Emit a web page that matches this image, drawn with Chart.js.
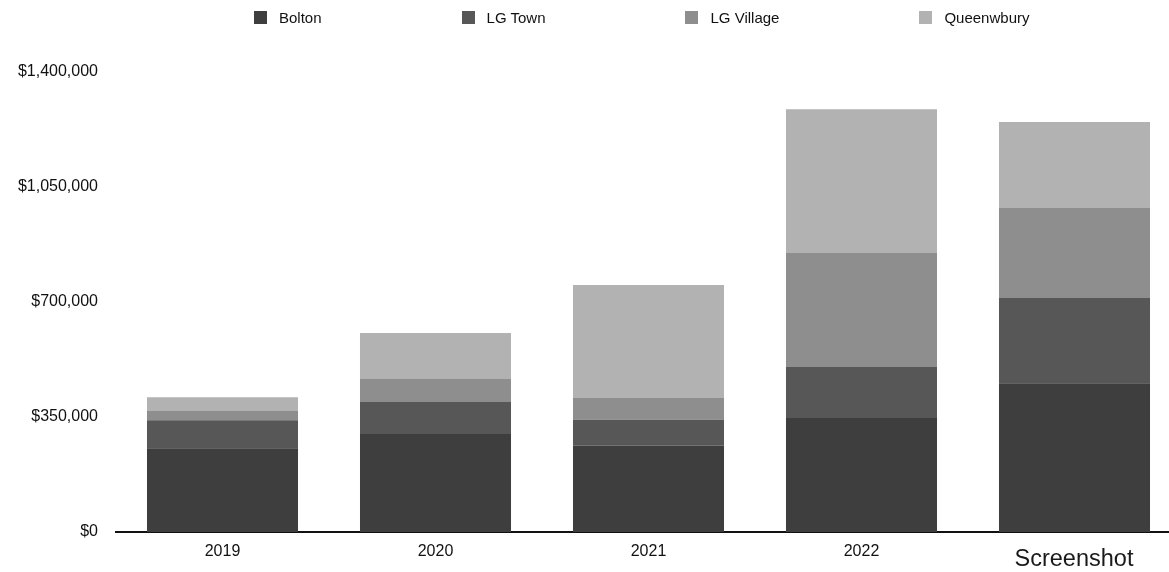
<!DOCTYPE html>
<html>
<head>
<meta charset="utf-8">
<script src="https://cdn.jsdelivr.net/npm/chart.js@4/dist/chart.umd.min.js"></script>
<style>
    html, body { margin: 0; padding: 0; background: #fff; overflow: hidden; width: 1169px; height: 572px; }
    #wrap { position: relative; width: 1181px; height: 572px; }
    #legend {
        position: absolute; left: 254px; top: 9px;
        display: flex; gap: 140px;
        font: 15px "Liberation Sans", Arial, sans-serif; color: #111;
    }
    .legend-item { display: flex; align-items: center; }
    .legend-box { width: 13px; height: 13px; margin-right: 12px; }
    #overlay {
        position: absolute; left: 974px; width: 200px; top: 545px;
        text-align: center; line-height: 23px;
        font: 23.5px "Liberation Sans", Arial, sans-serif; color: #1a1a1a;
    }
</style>
</head>
<body>
<div id="wrap">
    <canvas id="revenueChart"></canvas>
    <div id="legend"></div>
    <div id="overlay">Screenshot</div>
</div>
<script>
// data
const years = ['2019', '2020', '2021', '2022', ''];
const bolton     = [255000, 298000, 263000, 347000, 453000];
const lgTown     = [ 85000,  98000,  79000, 155000, 259000];
const lgVillage  = [ 30000,  70000,  66000, 347000, 274000];
const queenwbury = [ 40000, 140000, 344000, 438000, 262000];
const yTicks = [0, 350000, 700000, 1050000, 1400000];

const seriesNames = ['Bolton', 'LG Town', 'LG Village', 'Queenwbury'];
const seriesColors = ['#3e3e3e', '#575757', '#8e8e8e', '#b2b2b2'];
const seriesData = [bolton, lgTown, lgVillage, queenwbury];

const datasets = seriesNames.map((name, i) => ({
    label: name,
    data: seriesData[i],
    backgroundColor: seriesColors[i],
    borderWidth: 0,
    categoryPercentage: 1,
    barPercentage: 0.709
}));

// simple html legend, same look as the original
document.getElementById('legend').innerHTML = datasets.map(ds => `
    <div class="legend-item">
        <span class="legend-box" style="background:${ds.backgroundColor}"></span>
        <span>${ds.label}</span>
    </div>
`).join('');

const tickFont = { family: '"Liberation Sans", Arial, sans-serif', size: 16 };

const ctx = document.getElementById('revenueChart').getContext('2d');
new Chart(ctx, {
    type: 'bar',
    data: { labels: years, datasets: datasets },
    options: {
        responsive: true,
        maintainAspectRatio: false,
        animation: false,
        layout: { padding: { top: 72, left: 0, right: 0, bottom: 0 } },
        plugins: {
            legend: { display: false },
            tooltip: { enabled: false }
        },
        scales: {
            x: {
                stacked: true,
                grid: { display: false },
                border: { display: true, color: '#111', width: 2 },
                ticks: { color: '#111', font: tickFont, padding: 2, maxRotation: 0 },
                afterFit: scale => { scale.height = 40; }
            },
            y: {
                stacked: true,
                min: 0,
                max: 1400000,
                grid: { display: false },
                border: { display: false },
                afterBuildTicks: scale => { scale.ticks = yTicks.map(v => ({ value: v })); },
                afterFit: scale => { scale.width = 116; },
                ticks: {
                    color: '#111',
                    font: tickFont,
                    padding: 10,
                    callback: v => '$' + v.toLocaleString('en-US')
                }
            }
        }
    }
});
</script>
</body>
</html>
